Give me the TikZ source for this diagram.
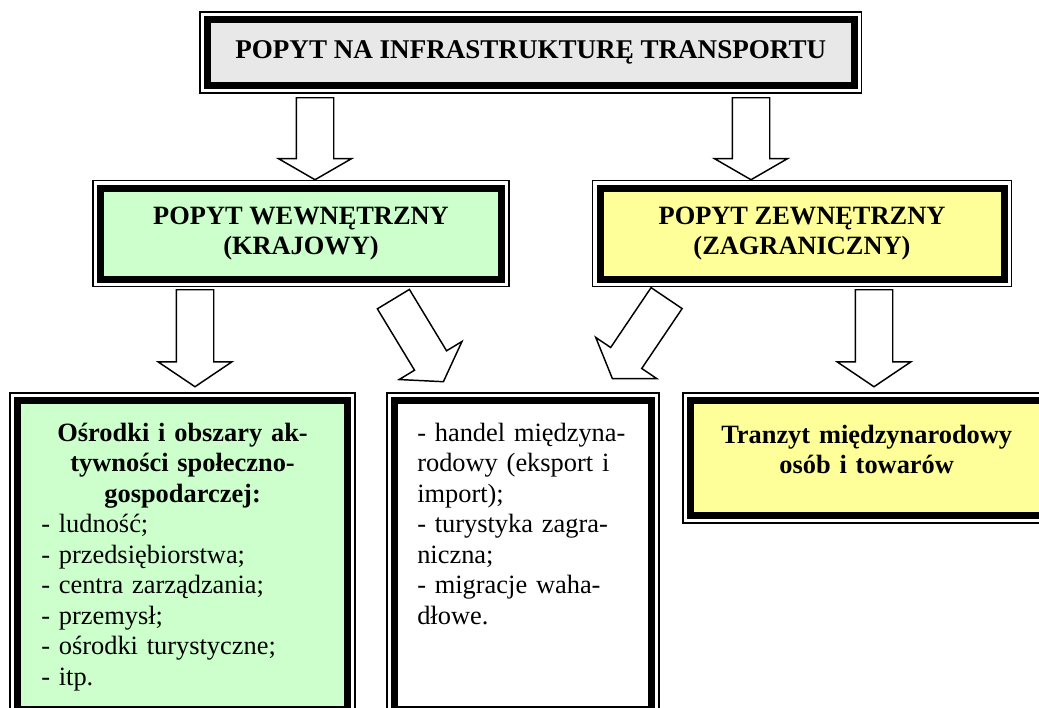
\documentclass[tikz,border=0pt]{standalone}
\usepackage{fontspec}
\setmainfont{Liberation Serif}
\usepackage{tikz}
\usetikzlibrary{shapes.arrows,positioning,fit}
\definecolor{boxgray}{HTML}{E8E8E8}
\definecolor{boxgreen}{HTML}{CCFFCC}
\definecolor{boxyellow}{HTML}{FFFF99}

\begin{document}
\begin{tikzpicture}[
    x=0.75pt,y=-0.75pt,
    txt/.style={font=\fontsize{19.8}{22.9}\selectfont},
    btxt/.style={font=\fontsize{19.8}{22.9}\selectfont\bfseries},
    frame/.style={rectangle,draw=black,line width=5.25pt,inner sep=0pt,
      preaction={draw=black,line width=12.4pt},
      preaction={draw=white,line width=10.1pt}},
    bigarrow/.style={single arrow,draw=black,fill=white,line width=1.1pt,
      inner xsep=0pt,inner ysep=13.5pt,single arrow head extend=13.5pt,
      single arrow head indent=0pt,anchor=tail},
    listtext/.style={txt,inner sep=0pt,anchor=base west,text width=#1,align=left}
  ]
  \useasboundingbox (0,0) rectangle (1039,707);
  \clip (0,0) rectangle (1039,707);

  % boxes
  \node[frame,fill=boxgray,fit={(207.5,19.5) (854,85.5)}] (demand) {};
  \node[frame,fill=boxgreen,fit={(100.5,188) (501.5,279)}] (internal) {};
  \node[frame,fill=boxyellow,fit={(600,188) (1004,279)}] (external) {};

  \node[frame,fill=boxgreen,fit={(17.5,400.5) (347.5,709)}] (centres) {};
  \node[frame,fill=white,fit={(394.5,400.5) (651.5,709)}] (trade) {};
  \node[frame,fill=boxyellow,fit={(690.5,400.5) (1043,515.5)}] (transit) {};

  % texts
  \node[btxt,font=\fontsize{20.3}{22.9}\selectfont\bfseries,inner sep=0pt] (demandtext) at (demand.center) {POPYT NA INFRASTRUKTURĘ TRANSPORTU};
  \node[btxt,inner sep=0pt,align=center] (internaltext) at (internal.center) {POPYT WEWNĘTRZNY\\(KRAJOWY)};
  \node[btxt,inner sep=0pt,align=center] (externaltext) at (external.center) {POPYT ZEWNĘTRZNY\\(ZAGRANICZNY)};

  \node[listtext=212pt] (centrestext) at (41,441) {{\centering\bfseries Ośrodki i obszary ak-\\tywności społeczno-\\gospodarczej:\par}
    - ludność;\\- przedsiębiorstwa;\\- centra zarządzania;\\- przemysł;\\- ośrodki turystyczne;\\- itp.};
  \node[listtext=192pt] (tradetext) at (417,441) {- handel międzyna-\\rodowy (eksport i\\import);\\- turystyka zagra-\\niczna;\\- migracje waha-\\dłowe.};
  \node[btxt,inner sep=0pt,anchor=base,text width=300pt,align=center] (transittext) at (866.7,443) {Tranzyt międzynarodowy\\osób i towarów};

  % block arrows
  \node[bigarrow,single arrow tip angle=120,minimum height=61.5pt,rotate=-90] (a1) at (315,97) {};
  \node[bigarrow,single arrow tip angle=120,minimum height=61.5pt,rotate=-90] (a2) at (751,97) {};
  \node[bigarrow,single arrow tip angle=112,minimum height=72.75pt,rotate=-90] (a3) at (195,289) {};
  \node[bigarrow,single arrow tip angle=112,minimum height=72.4pt,rotate=-58.8] (a4) at (393,298.5) {};
  \node[bigarrow,single arrow tip angle=112,minimum height=72.75pt,rotate=-124] (a5) at (667,297.5) {};
  \node[bigarrow,single arrow tip angle=112,minimum height=72.75pt,rotate=-90] (a6) at (874,289) {};
\end{tikzpicture}
\end{document}
